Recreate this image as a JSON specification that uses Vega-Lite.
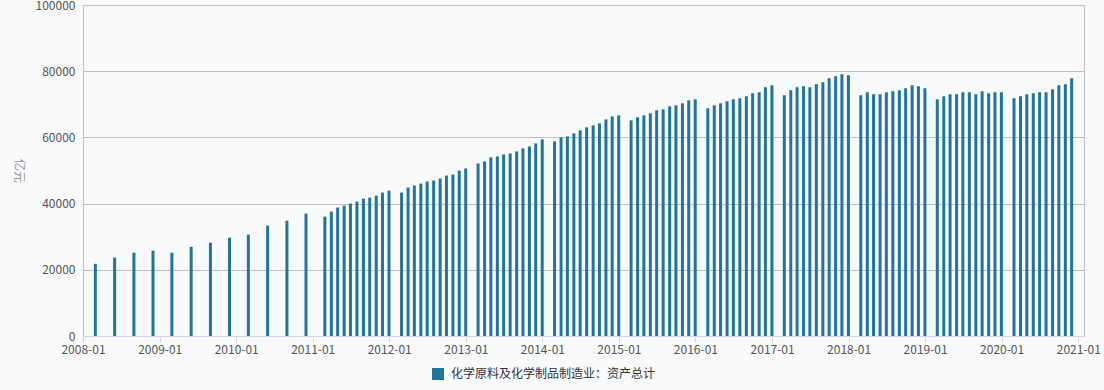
{
  "$schema": "https://vega.github.io/schema/vega-lite/v6.json",
  "width": 1001,
  "height": 331,
  "autosize": {"type": "none"},
  "padding": {"left": 83, "top": 5, "right": 20, "bottom": 54},
  "background": "#f9fafc",
  "config": {
    "view": {"stroke": "#c0c0c0", "strokeWidth": 1},
    "font": "Noto Sans CJK SC"
  },
  "data": {
    "values": [
      {"date": "2008-02-29", "v": 21800},
      {"date": "2008-05-31", "v": 23700},
      {"date": "2008-08-31", "v": 25150},
      {"date": "2008-11-30", "v": 25760},
      {"date": "2009-02-28", "v": 25150},
      {"date": "2009-05-31", "v": 26970},
      {"date": "2009-08-31", "v": 28180},
      {"date": "2009-11-30", "v": 29700},
      {"date": "2010-02-28", "v": 30600},
      {"date": "2010-05-31", "v": 33330},
      {"date": "2010-08-31", "v": 34850},
      {"date": "2010-11-30", "v": 36970},
      {"date": "2011-02-28", "v": 36060},
      {"date": "2011-03-31", "v": 37580},
      {"date": "2011-04-30", "v": 38790},
      {"date": "2011-05-31", "v": 39390},
      {"date": "2011-06-30", "v": 40000},
      {"date": "2011-07-31", "v": 40600},
      {"date": "2011-08-31", "v": 41500},
      {"date": "2011-09-30", "v": 41800},
      {"date": "2011-10-31", "v": 42400},
      {"date": "2011-11-30", "v": 43330},
      {"date": "2011-12-31", "v": 43940},
      {"date": "2012-02-29", "v": 43330},
      {"date": "2012-03-31", "v": 44850},
      {"date": "2012-04-30", "v": 45450},
      {"date": "2012-05-31", "v": 46060},
      {"date": "2012-06-30", "v": 46670},
      {"date": "2012-07-31", "v": 46970},
      {"date": "2012-08-31", "v": 47580},
      {"date": "2012-09-30", "v": 48480},
      {"date": "2012-10-31", "v": 48790},
      {"date": "2012-11-30", "v": 50000},
      {"date": "2012-12-31", "v": 50610},
      {"date": "2013-02-28", "v": 52120},
      {"date": "2013-03-31", "v": 52730},
      {"date": "2013-04-30", "v": 53940},
      {"date": "2013-05-31", "v": 54240},
      {"date": "2013-06-30", "v": 54850},
      {"date": "2013-07-31", "v": 55150},
      {"date": "2013-08-31", "v": 55760},
      {"date": "2013-09-30", "v": 56670},
      {"date": "2013-10-31", "v": 57270},
      {"date": "2013-11-30", "v": 58180},
      {"date": "2013-12-31", "v": 59390},
      {"date": "2014-02-28", "v": 58790},
      {"date": "2014-03-31", "v": 60000},
      {"date": "2014-04-30", "v": 60300},
      {"date": "2014-05-31", "v": 61210},
      {"date": "2014-06-30", "v": 62120},
      {"date": "2014-07-31", "v": 63030},
      {"date": "2014-08-31", "v": 63640},
      {"date": "2014-09-30", "v": 64240},
      {"date": "2014-10-31", "v": 65450},
      {"date": "2014-11-30", "v": 66360},
      {"date": "2014-12-31", "v": 66670},
      {"date": "2015-02-28", "v": 65150},
      {"date": "2015-03-31", "v": 66060},
      {"date": "2015-04-30", "v": 66670},
      {"date": "2015-05-31", "v": 67270},
      {"date": "2015-06-30", "v": 68180},
      {"date": "2015-07-31", "v": 68480},
      {"date": "2015-08-31", "v": 69390},
      {"date": "2015-09-30", "v": 69700},
      {"date": "2015-10-31", "v": 70300},
      {"date": "2015-11-30", "v": 71210},
      {"date": "2015-12-31", "v": 71520},
      {"date": "2016-02-29", "v": 68790},
      {"date": "2016-03-31", "v": 69700},
      {"date": "2016-04-30", "v": 70300},
      {"date": "2016-05-31", "v": 70910},
      {"date": "2016-06-30", "v": 71520},
      {"date": "2016-07-31", "v": 71820},
      {"date": "2016-08-31", "v": 72420},
      {"date": "2016-09-30", "v": 73330},
      {"date": "2016-10-31", "v": 73640},
      {"date": "2016-11-30", "v": 75150},
      {"date": "2016-12-31", "v": 75760},
      {"date": "2017-02-28", "v": 72730},
      {"date": "2017-03-31", "v": 74240},
      {"date": "2017-04-30", "v": 75150},
      {"date": "2017-05-31", "v": 75450},
      {"date": "2017-06-30", "v": 75150},
      {"date": "2017-07-31", "v": 76060},
      {"date": "2017-08-31", "v": 76670},
      {"date": "2017-09-30", "v": 77880},
      {"date": "2017-10-31", "v": 78480},
      {"date": "2017-11-30", "v": 79090},
      {"date": "2017-12-31", "v": 78790},
      {"date": "2018-02-28", "v": 72730},
      {"date": "2018-03-31", "v": 73640},
      {"date": "2018-04-30", "v": 73030},
      {"date": "2018-05-31", "v": 73030},
      {"date": "2018-06-30", "v": 73640},
      {"date": "2018-07-31", "v": 73940},
      {"date": "2018-08-31", "v": 74240},
      {"date": "2018-09-30", "v": 74850},
      {"date": "2018-10-31", "v": 75760},
      {"date": "2018-11-30", "v": 75450},
      {"date": "2018-12-31", "v": 74850},
      {"date": "2019-02-28", "v": 71520},
      {"date": "2019-03-31", "v": 72420},
      {"date": "2019-04-30", "v": 73030},
      {"date": "2019-05-31", "v": 73030},
      {"date": "2019-06-30", "v": 73640},
      {"date": "2019-07-31", "v": 73640},
      {"date": "2019-08-31", "v": 73030},
      {"date": "2019-09-30", "v": 73940},
      {"date": "2019-10-31", "v": 73330},
      {"date": "2019-11-30", "v": 73640},
      {"date": "2019-12-31", "v": 73640},
      {"date": "2020-02-29", "v": 71820},
      {"date": "2020-03-31", "v": 72420},
      {"date": "2020-04-30", "v": 73030},
      {"date": "2020-05-31", "v": 73330},
      {"date": "2020-06-30", "v": 73640},
      {"date": "2020-07-31", "v": 73640},
      {"date": "2020-08-31", "v": 74550},
      {"date": "2020-09-30", "v": 75760},
      {"date": "2020-10-31", "v": 76060},
      {"date": "2020-11-30", "v": 77880}
    ]
  },
  "mark": {"type": "bar", "size": 3},
  "encoding": {
    "x": {
      "field": "date",
      "type": "temporal",
      "scale": {"domain": ["2008-01-01", "2021-01-28"], "nice": false, "padding": 0},
      "axis": {
        "title": null,
        "format": "%Y-%m",
        "tickCount": {"interval": "year", "step": 1},
        "grid": false,
        "domainColor": "#ccd6eb",
        "tickColor": "#ccd6eb",
        "tickSize": 6,
        "labelColor": "#555555",
        "labelFontSize": 12,
        "labelFont": "Noto Sans CJK SC",
        "labelPadding": 2,
        "labelOverlap": false,
        "labelFlush": false
      }
    },
    "y": {
      "field": "v",
      "type": "quantitative",
      "scale": {"domain": [0, 100000], "nice": false},
      "axis": {
        "title": "亿元",
        "titleAngle": 90,
        "titleColor": "#999999",
        "titleFontSize": 12,
        "titleFontWeight": "normal",
        "titlePadding": 24,
        "values": [0, 20000, 40000, 60000, 80000, 100000],
        "format": "d",
        "domain": false,
        "ticks": false,
        "gridColor": "#c0c0c0",
        "labelColor": "#555555",
        "labelFontSize": 12,
        "labelPadding": 8
      }
    },
    "color": {
      "datum": "化学原料及化学制品制造业：资产总计",
      "type": "nominal",
      "scale": {"range": ["#21759b"]},
      "legend": {
        "title": null,
        "orient": "none",
        "legendX": 349,
        "legendY": 363,
        "direction": "horizontal",
        "symbolType": "square",
        "symbolSize": 144,
        "symbolStrokeWidth": 0,
        "labelOffset": 7,
        "labelFontSize": 12,
        "labelColor": "#333333",
        "labelLimit": 0
      }
    }
  }
}
